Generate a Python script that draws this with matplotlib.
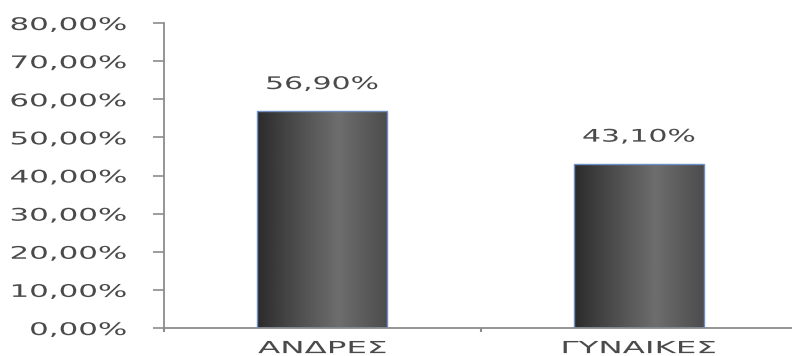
import numpy as np
import matplotlib
matplotlib.use("Agg")
from matplotlib import pyplot as plt
import matplotlib.patheffects as pe
from matplotlib.transforms import Affine2D

categories = ["ΑΝΔΡΕΣ", "ΓΥΝΑΙΚΕΣ"]
values = [56.90, 43.10]
yticks = [0, 10, 20, 30, 40, 50, 60, 70, 80]


class Stretch(pe.AbstractPathEffect):
    # widen glyphs horizontally around the text anchor (the original font is very wide)
    def __init__(self, sx, anchor="center"):
        super().__init__()
        self.sx = sx
        self.anchor = anchor

    def draw_path(self, renderer, gc, tpath, affine, rgbFace=None):
        ext = tpath.get_extents(affine)
        x0 = {"left": ext.x0, "center": (ext.x0 + ext.x1) / 2, "right": ext.x1}[self.anchor]
        t = affine + Affine2D().translate(-x0, 0).scale(self.sx, 1).translate(x0, 0)
        renderer.draw_path(gc, tpath, t, rgbFace)


def pct(v):
    return "{:.2f}%".format(v).replace(".", ",")


txt = "#4a4a4a"
axc = "#8c8c8c"

fig = plt.figure(figsize=(7.92, 3.56), dpi=100, facecolor="white")
ax = fig.add_axes([164 / 792, 1 - 328 / 356, 633 / 792, 305 / 356])

x = np.arange(len(categories))
bars = ax.bar(x, values, width=0.41, facecolor="none", edgecolor="#6f8fc4", linewidth=1.0, zorder=3)

cols = np.linspace(0, 1, 256)
grad = np.interp(cols, [0, 0.3, 0.63, 1.0], [0.17, 0.30, 0.43, 0.30])[None, :]
for b in bars:
    im = ax.imshow(grad, extent=[b.get_x(), b.get_x() + b.get_width(), 0, b.get_height()],
                   aspect="auto", cmap="gray", vmin=0, vmax=1, zorder=2, interpolation="bilinear")
    im.set_clip_path(b)

for b, v in zip(bars, values):
    ax.annotate(pct(v), (b.get_x() + b.get_width() / 2, b.get_height()), xytext=(0, 13),
                textcoords="offset points", ha="center", va="bottom", fontsize=12.5, color=txt,
                path_effects=[Stretch(1.72, "center")])

ax.set_xlim(-0.5, 1.5)
ax.set_ylim(0, 80)
ax.set_yticks(yticks)
ax.set_yticklabels([pct(v) for v in yticks])
for lab in ax.get_yticklabels():
    lab.set_path_effects([Stretch(1.78, "right")])
    lab.set_color(txt)
    lab.set_fontsize(12.5)
ax.tick_params(axis="y", length=8, width=1.2, color=axc, pad=19)

ax.set_xticks([-0.5, 0.5, 1.5])
ax.set_xticklabels(["", "", ""])
ax.tick_params(axis="x", which="major", length=3, width=1.5, color=axc)
ax.set_xticks(x, minor=True)
ax.set_xticklabels(categories, minor=True)
for lab in ax.get_xticklabels(minor=True):
    lab.set_path_effects([Stretch(1.95, "center")])
    lab.set_color(txt)
    lab.set_fontsize(12)
ax.tick_params(axis="x", which="minor", length=0, pad=8)

for s in ["top", "right"]:
    ax.spines[s].set_visible(False)
for s in ["left", "bottom"]:
    ax.spines[s].set_color(axc)
    ax.spines[s].set_linewidth(1.3)

fig.savefig("out.png", dpi=100, facecolor="white")
